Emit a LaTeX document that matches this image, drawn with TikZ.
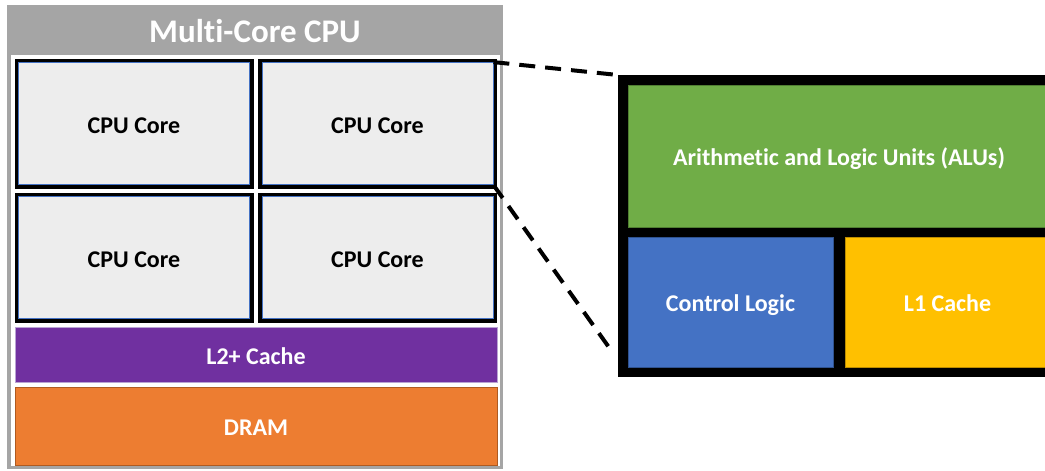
\documentclass[tikz,border=0pt]{standalone}
\usepackage{fontspec}
\setmainfont{Carlito}[Ligatures=NoCommon]
\definecolor{framegray}{HTML}{A5A5A5}
\definecolor{coregray}{HTML}{EDEDED}
\definecolor{coreblue}{HTML}{4472C4}
\definecolor{l2purple}{HTML}{7030A0}
\definecolor{l2edge}{HTML}{B9A3D3}
\definecolor{dramorange}{HTML}{ED7D31}
\definecolor{dramedge}{HTML}{AE5A21}
\definecolor{alugreen}{HTML}{70AD47}
\definecolor{aluedge}{HTML}{507E32}
\definecolor{ctlblue}{HTML}{4472C4}
\definecolor{ctledge}{HTML}{2F528F}
\definecolor{l1yellow}{HTML}{FFC000}
\definecolor{l1edge}{HTML}{BC8C00}
\begin{document}
\begin{tikzpicture}[x=1pt,y=-1pt,
  lbl/.style={font=\bfseries\fontsize{24}{28}\selectfont, text height=19pt, text depth=0pt},
  core/.style={lbl, rectangle, fill=coregray, draw=coreblue, line width=0.8pt,
    minimum width=231pt, minimum height=122pt, inner sep=0pt,
    preaction={draw=black, line width=8pt}},
  band/.style={lbl, text=white, rectangle, line width=0.8pt, inner sep=0pt,
    minimum width=482pt},
  part/.style={band},
  dashline/.style={draw=black, line width=4pt, dash pattern=on 16pt off 10pt}
]
\useasboundingbox (0,0) rectangle (1045,471);
\clip (0,0) rectangle (1045,471);
% outer CPU frame
\fill[framegray] (7,5) rectangle (503,469);
\fill[white] (10.5,55) rectangle (499.5,466);
\node[text=white, font=\bfseries\fontsize{33}{40}\selectfont] (title) at (255,31) {Multi-Core CPU};
% cores
\node[core] (c1) at (134,123.5) {CPU Core};
\node[core] (c2) at (377.5,123.5) {CPU Core};
\node[core] (c3) at (134,257.5) {CPU Core};
\node[core] (c4) at (377.5,257.5) {CPU Core};
% caches
\node[band, fill=l2purple, draw=l2edge, minimum height=55pt] (l2) at (256,354.5) {L2+ Cache};
\node[band, fill=dramorange, draw=dramedge, minimum height=78pt] (dram) at (256,426) {DRAM};
% zoomed core
\node[rectangle, fill=black, inner sep=0pt, outer sep=0pt, minimum width=442pt, minimum height=302pt] (zoom) at (839,226) {};
\node[part, fill=alugreen, draw=aluedge, minimum width=422pt, minimum height=142pt] (alu) at (839,156) {Arithmetic and Logic Units (ALUs)};
\node[part, fill=ctlblue, draw=ctledge, minimum width=205pt, minimum height=130pt] (ctl) at (730.5,302) {Control Logic};
\node[part, fill=l1yellow, draw=l1edge, minimum width=205pt, minimum height=130pt] (l1) at (947.5,302) {L1 Cache};
% dashed connectors
\coordinate (lowend) at (613,353);
\draw[dashline] (c2.north east) -- (zoom.north west);
\draw[dashline] (c2.south east) -- (lowend);
\end{tikzpicture}
\end{document}
